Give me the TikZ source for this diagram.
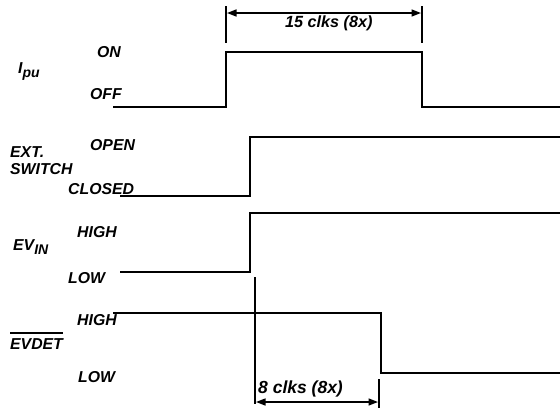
\documentclass[tikz,border=0pt]{standalone}
\usepackage{fontspec}
\setmainfont{Liberation Sans}
\usetikzlibrary{arrows.meta}
\begin{document}
\begin{tikzpicture}[x=1pt,y=-1pt,
  wave/.style={line width=2pt},
  tickline/.style={line width=1.8pt},
  dimline/.style={line width=1.4pt,{Triangle[length=9.5pt,width=7pt]}-{Triangle[length=9.5pt,width=7pt]}},
  lbl/.style={font=\fontsize{15.8}{17}\selectfont\bfseries\itshape, inner sep=0pt, anchor=base west},
]
\useasboundingbox (0,0) rectangle (560,408);
% labels
\node[lbl] (ipu) at (18,73) {I\raisebox{-0.3em}{\fontsize{14}{15}\selectfont pu}};
\node[lbl] (on) at (97,57) {ON};
\node[lbl] (off) at (90,99) {OFF};
\node[lbl] (ext) at (10,157) {EXT.};
\node[lbl] (sw) at (10,174) {SWITCH};
\node[lbl] (open) at (90,150) {OPEN};
\node[lbl] (closed) at (68,194) {CLOSED};
\node[lbl] (evin) at (13,250) {EV\raisebox{-0.3em}{\fontsize{14}{15}\selectfont IN}};
\node[lbl] (high1) at (77,237) {HIGH};
\node[lbl] (low1) at (68,283) {LOW};
\node[lbl] (evdet) at (10,349) {EVDET};
\draw[line width=1.2pt] ([yshift=5pt]evdet.north west) -- ([yshift=5pt]evdet.north east);
\node[lbl] (high2) at (77,325) {HIGH};
\node[lbl] (low2) at (78,382) {LOW};
\node[lbl, font=\fontsize{16.2}{18}\selectfont\bfseries\itshape] (c15) at (285,27) {15 clks (8x)};
\node[lbl, font=\fontsize{17.5}{20}\selectfont\bfseries\itshape] (c8) at (258,393) {8 clks (8x)};
% Ipu
\coordinate (a0) at (113,107); \coordinate (a1) at (226,107); \coordinate (a2) at (226,52);
\coordinate (a3) at (422,52); \coordinate (a4) at (422,107); \coordinate (a5) at (560,107);
\draw[wave] (a0) -- (a1) -- (a2) -- (a3) -- (a4) -- (a5);
% EXT SWITCH
\coordinate (b0) at (120,196); \coordinate (b1) at (250,196); \coordinate (b2) at (250,137); \coordinate (b3) at (560,137);
\draw[wave] (b0) -- (b1) -- (b2) -- (b3);
% EVIN
\coordinate (c0) at (120,272); \coordinate (c1) at (250,272); \coordinate (c2) at (250,213); \coordinate (c3) at (560,213);
\draw[wave] (c0) -- (c1) -- (c2) -- (c3);
% EVDET
\coordinate (d0) at (113,313); \coordinate (d1) at (381,313); \coordinate (d2) at (381,373); \coordinate (d3) at (560,373);
\draw[wave] (d0) -- (d1) -- (d2) -- (d3);
% top dimension
\coordinate (t1a) at (226,6); \coordinate (t1b) at (226,43);
\coordinate (t2a) at (422,6); \coordinate (t2b) at (422,43);
\draw[tickline] (t1a) -- (t1b);
\draw[tickline] (t2a) -- (t2b);
\coordinate (ta) at (227,13); \coordinate (tb) at (421,13);
\draw[dimline] (ta) -- (tb);
% bottom dimension
\coordinate (v1a) at (255,277); \coordinate (v1b) at (255,404);
\draw[tickline] (v1a) -- (v1b);
\coordinate (v2a) at (379,379); \coordinate (v2b) at (379,408);
\draw[tickline] (v2a) -- (v2b);
\coordinate (ba) at (256,402); \coordinate (bb) at (378,402);
\draw[dimline] (ba) -- (bb);
\end{tikzpicture}
\end{document}
